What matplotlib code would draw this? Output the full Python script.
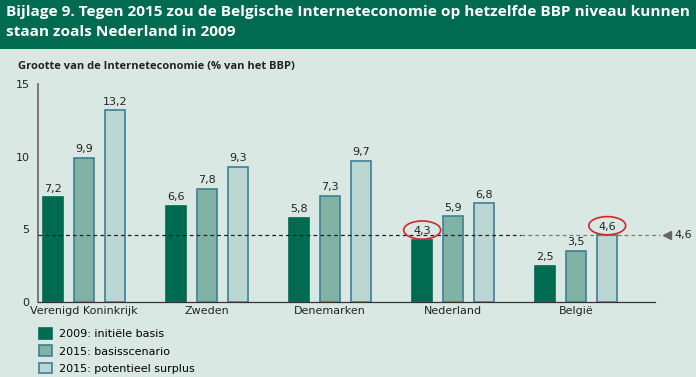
import matplotlib.pyplot as plt
import numpy as np
from matplotlib.patches import Ellipse, Rectangle

# data
countries = ['Verenigd Koninkrijk', 'Zweden', 'Denemarken', 'Nederland', 'België']
series_names = ['2009: initiële basis', '2015: basisscenario', '2015: potentieel surplus']
basis_2009 = [7.2, 6.6, 5.8, 4.3, 2.5]
scenario_2015 = [9.9, 7.8, 7.3, 5.9, 3.5]
surplus_2015 = [13.2, 9.3, 9.7, 6.8, 4.6]
target_level = 4.6

bg = '#d9e8e3'
banner = '#006b50'
colors = ['#006b50', '#80b3a4', '#bcd7d1']
edges = ['#006b50', '#3d7e98', '#3d7e98']

fig = plt.figure(figsize=(6.96, 3.77), dpi=100, facecolor=bg)

# title banner
fig.patches.append(Rectangle((0, 1 - 49 / 377), 1, 49 / 377, transform=fig.transFigure,
                             facecolor=banner, edgecolor='none', zorder=0))
title = fig.text(0.008, 0.988, 'Bijlage 9. Tegen 2015 zou de Belgische Interneteconomie op hetzelfde BBP niveau kunnen\nstaan zoals Nederland in 2009',
                 color='white', fontsize=12, fontweight='bold', va='top', ha='left',
                 family='Open Sans', linespacing=1.55)
# shrink the title until it fits the banner width
renderer = fig.canvas.get_renderer()
w = title.get_window_extent(renderer).width
if w > 684:
    title.set_fontsize(12 * 684 / w)

fig.text(0.026, 0.808, 'Grootte van de Interneteconomie (% van het BBP)',
         fontsize=8, fontweight='bold', color='#222222', va='bottom', family='Open Sans')

ax = fig.add_axes([38 / 696, 75 / 377, (655 - 38) / 696, 218 / 377])
ax.set_facecolor(bg)

x = np.arange(len(countries))
step = 0.252
width = 0.165
all_series = [basis_2009, scenario_2015, surplus_2015]
for k, vals in enumerate(all_series):
    pos = x + (k - 1) * step
    ax.bar(pos, vals, width, color=colors[k], edgecolor=edges[k], linewidth=1.2,
           label=series_names[k], zorder=3)
    for p, v in zip(pos, vals):
        ax.text(p, v + 0.25, f'{v:.1f}'.replace('.', ','), ha='center', va='bottom',
                fontsize=8, color='#222222', zorder=4)

# reference line
ax.plot([-0.374, 3.55], [target_level, target_level], ls=(0, (3, 2.5)), color='#222222',
        lw=0.9, zorder=5, clip_on=False)
ax.plot([3.55, 4.68], [target_level, target_level], ls=(0, (3, 2.5)), color='#777777',
        lw=0.9, zorder=5, clip_on=False)
ax.plot([4.74], [target_level], marker='<', color='#666666', markersize=6, clip_on=False)
ax.text(4.80, target_level, '4,6', va='center', ha='left', fontsize=8, color='#222222')

# red circles around highlighted values
for gx, k, v in [(3, 0, basis_2009[3]), (4, 2, surplus_2015[4])]:
    cx = gx + (k - 1) * step
    ax.add_patch(Ellipse((cx, v + 0.65), 0.3, 1.25, fill=False, edgecolor='#d0282c',
                         lw=1.2, zorder=6, clip_on=False))

ax.set_xlim(-0.374, 4.64)
ax.set_ylim(0, 15)
ax.set_yticks([0, 5, 10, 15])
ax.set_xticks(x)
ax.set_xticklabels(countries, fontsize=8, color='#222222')
ax.tick_params(axis='both', length=0, labelsize=8, colors='#222222', pad=3)
ax.tick_params(axis='y', pad=6)
for s in ['top', 'right']:
    ax.spines[s].set_visible(False)
ax.spines['left'].set_color('#666666')
ax.spines['bottom'].set_color('#333333')
ax.spines['left'].set_linewidth(1.2)
ax.spines['bottom'].set_linewidth(0.9)

ax.legend(loc='upper left', bbox_to_anchor=(-0.005, -0.10), frameon=False, fontsize=8,
          handlelength=1.1, handleheight=1.1, handletextpad=0.7, labelspacing=0.55,
          borderaxespad=0)

plt.savefig('out.png', dpi=100, facecolor=bg)
